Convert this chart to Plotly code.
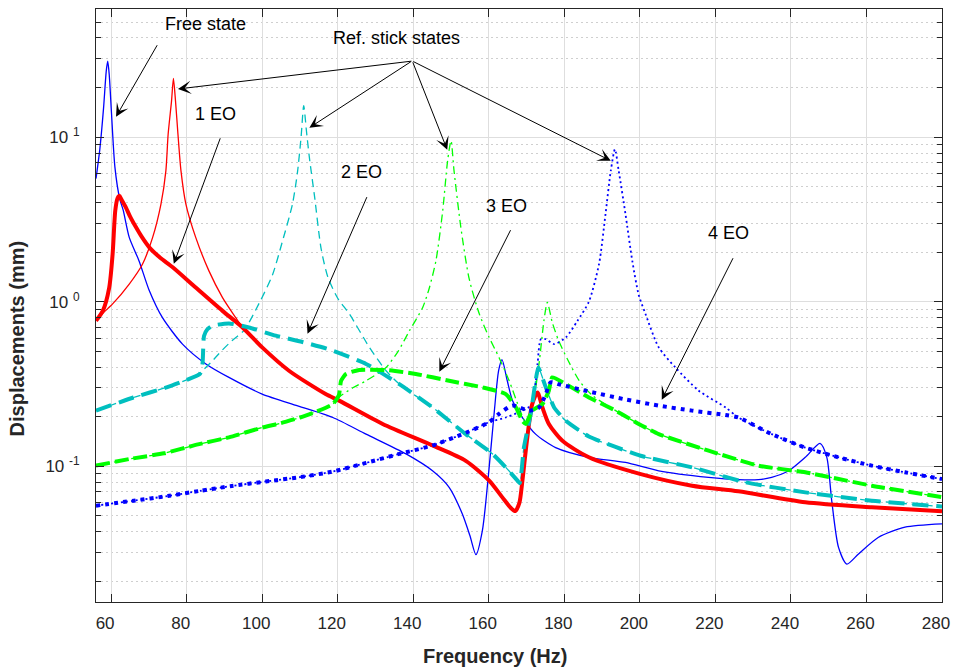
import math
import plotly.graph_objects as go

# ---------------- data ----------------
free_f = [56, 57, 58, 58.7, 59.1, 59.5, 60.1, 61.0, 62.3, 63.2, 64.8, 67.4, 70.1, 73.6, 78.9, 85.1, 91.2, 100,
          109.4, 118.7, 127.5, 138.1, 145.1, 149.5, 153, 155, 156.6, 158.3, 160.1, 161.4, 162.6, 163.5, 164.9,
          166.3, 168.9, 172.4, 177.7, 186.5, 196.2, 205, 218.2, 226.1, 231.4, 234.9, 239.4, 243.8, 247.7,
          249.5, 250.8, 252.6, 254.8, 257.9, 263.1, 270.2, 280]
free_y = [5.6, 8.4, 15, 25, 28.9, 24, 14, 6.6, 4.2, 3.6, 2.46, 1.77, 1.17, 0.80, 0.553, 0.419, 0.347, 0.275,
          0.233, 0.198, 0.157, 0.119, 0.094, 0.0746, 0.0514, 0.038, 0.0291, 0.0407, 0.0986, 0.208, 0.381, 0.445,
          0.331, 0.25, 0.198, 0.157, 0.130, 0.1135, 0.1057, 0.094, 0.0857, 0.083, 0.083, 0.0857, 0.094, 0.1135,
          0.138, 0.1135, 0.0619, 0.0322, 0.0255, 0.0294, 0.037, 0.0427, 0.0447]

eo1_f = [56, 57.8, 59.5, 60.4, 61.1, 61.7, 62.2, 62.8, 63.9, 65, 66.6, 68, 70.1, 73, 76.3, 82.4, 89.5, 94.8, 100,
         107.1, 116.8, 120.5, 131.9, 145.1, 153.9, 160.1, 163.6, 165.8, 167, 168.1, 168.9, 170.2, 171.5, 172.9,
         174.2, 175.9, 179.5, 186.5, 200, 213.8, 226.1, 243.8, 261.4, 280]
eo1_y = [0.766, 0.88, 1.22, 1.95, 3.57, 4.25, 4.40, 4.15, 3.74, 3.3, 2.83, 2.5, 2.14, 1.85, 1.62, 1.22, 0.88, 0.698,
         0.528, 0.381, 0.275, 0.25, 0.181, 0.134, 0.108, 0.0819, 0.0648, 0.056, 0.0535, 0.06, 0.0819, 0.15, 0.239,
         0.281, 0.228, 0.181, 0.143, 0.1135, 0.09, 0.0763, 0.0705, 0.0605, 0.0564, 0.0533]

st1_f = [56, 58, 60.4, 64.8, 68.3, 71, 73.2, 74.5, 75.1, 76, 76.5, 77.05, 77.7, 78.5, 79.8, 82.4, 85.9, 89.5, 93,
         94.8, 100, 107.1, 116.8, 120.5, 131.9, 145.1, 153.9, 160.1, 163.6, 165.8, 167, 168.1, 168.9, 170.2,
         171.5, 172.9, 174.2, 175.9, 179.5, 186.5, 200, 213.8, 226.1, 243.8, 261.4, 280]
st1_y = [0.77, 0.86, 0.97, 1.28, 1.69, 2.46, 3.92, 6.24, 10.4, 16.6, 22.7, 16.6, 10.4, 6.24, 3.92, 2.46, 1.54, 1.06,
         0.80, 0.698, 0.528, 0.381, 0.275, 0.25, 0.181, 0.134, 0.108, 0.0819, 0.0648, 0.056, 0.0535, 0.06, 0.0819,
         0.15, 0.239, 0.281, 0.228, 0.181, 0.143, 0.1135, 0.09, 0.0763, 0.0705, 0.0605, 0.0564, 0.0533]

eo2_f = [56, 65.9, 74.7, 80, 83.5, 84.2, 84.6, 85.5, 86.8, 91.2, 96.5, 103.6, 110.2, 117.5, 127.5, 136.3, 145.1,
         153.9, 161, 164.5, 167.6, 168.2, 169.3, 171.1, 172.4, 173.1, 175.1, 177.3, 180.4, 186.5, 200.2, 213.8,
         228, 243.8, 261.4, 280]
eo2_y = [0.218, 0.262, 0.302, 0.335, 0.364, 0.42, 0.62, 0.68, 0.715, 0.738, 0.698, 0.622, 0.573, 0.515, 0.419,
         0.316, 0.228, 0.157, 0.119, 0.0986, 0.0819, 0.079, 0.13, 0.208, 0.331, 0.399, 0.302, 0.228, 0.189, 0.152,
         0.116, 0.0986, 0.08, 0.0695, 0.0619, 0.057]

st2_f = [56, 65.9, 74.7, 80, 83.5, 86.5, 89.5, 92, 95.2, 99.2, 102.7, 105.3, 108, 109.3, 110.3, 111, 111.7, 112.5,
         113.9, 115.6, 117.4, 120, 123.1, 128.4, 132.8, 136.3, 145.1, 153.9, 161, 164.5, 167.6, 168.2, 169.3,
         171.1, 172.4, 173.1, 175.1, 177.3, 180.4, 186.5, 200.2, 213.8, 228, 243.8, 261.4, 280]
st2_y = [0.218, 0.262, 0.302, 0.335, 0.37, 0.43, 0.51, 0.58, 0.67, 0.98, 1.45, 2.3, 3.9, 6.0, 10, 15.5, 11, 7.5,
         4.3, 2.1, 1.41, 1.05, 0.842, 0.528, 0.381, 0.316, 0.228, 0.157, 0.119, 0.0986, 0.0819, 0.079, 0.13, 0.208,
         0.331, 0.399, 0.302, 0.228, 0.189, 0.152, 0.116, 0.0986, 0.08, 0.0695, 0.0619, 0.057]

eo3_f = [56, 65, 74, 83, 91.2, 100, 105, 110, 115, 118.7, 120.3, 120.9, 122.2, 125.7, 132.8, 140.7, 149.5, 158.3,
         164.5, 167.2, 168.9, 169.8, 171.5, 174.2, 175.9, 176.8, 180.4, 186.5, 193.6, 199.7, 205, 218.2, 231.4,
         243.8, 261.4, 280]
eo3_y = [0.101, 0.111, 0.12, 0.136, 0.15, 0.172, 0.183, 0.198, 0.218, 0.239, 0.27, 0.331, 0.364, 0.385, 0.385,
         0.364, 0.331, 0.302, 0.275, 0.228, 0.189, 0.181, 0.218, 0.239, 0.288, 0.347, 0.316, 0.262, 0.218, 0.181,
         0.157, 0.1245, 0.101, 0.092, 0.0763, 0.065]

st3_f = [56, 65, 74, 83, 91.2, 100, 105, 110, 115, 118.7, 120.5, 124, 127.5, 132.8, 136, 139, 142.5, 144.2, 146,
         147.8, 149.1, 150, 150.8, 152.6, 154.8, 157.5, 160.1, 162.7, 165.4, 168, 169.8, 171.5, 173.3, 174.6,
         175.5, 176.8, 178.5, 181, 184, 187.4, 193.6, 199.7, 205, 218.2, 231.4, 243.8, 261.4, 280]
st3_y = [0.101, 0.111, 0.12, 0.136, 0.15, 0.172, 0.183, 0.198, 0.218, 0.239, 0.265, 0.3, 0.331, 0.399, 0.5, 0.667,
         0.923, 1.2, 1.77, 3.57, 7.19, 9.5, 6.24, 2.83, 1.38, 0.842, 0.607, 0.459, 0.331, 0.228, 0.185, 0.228, 0.419,
         0.767, 0.99, 0.75, 0.58, 0.44, 0.33, 0.27, 0.218, 0.181, 0.157, 0.1245, 0.101, 0.092, 0.0763, 0.065]

eo4_f = [56, 66, 75, 83.5, 92, 101, 110, 118.7, 127.5, 136.3, 145.1, 153.9, 160, 162.7, 166.3, 170.7, 173.3,
         175.1, 176.4, 178.6, 186.5, 196.2, 205, 213.8, 222.7, 226.1, 234.9, 243.8, 252.6, 261.4, 270.2, 280]
eo4_y = [0.0577, 0.0619, 0.066, 0.071, 0.076, 0.081, 0.086, 0.093, 0.105, 0.119, 0.134, 0.16, 0.185, 0.208,
         0.234, 0.218, 0.228, 0.275, 0.324, 0.315, 0.285, 0.255, 0.234, 0.218, 0.205, 0.198, 0.157, 0.130, 0.1135,
         0.101, 0.092, 0.0837]

st4_f = [56, 66, 75, 83.5, 92, 101, 110, 118.7, 127.5, 136.3, 145.1, 153.9, 160, 164.5, 169.8, 171.5, 172.9,
         173.8, 175.1, 177.3, 180.4, 183.5, 186.5, 189.2, 190.9, 192.3, 193.4, 194.4, 196.2, 198, 199.7, 201.5,
         205, 209.4, 215.6, 222.7, 226.1, 234.9, 243.8, 252.6, 261.4, 270.2, 280]
st4_y = [0.0577, 0.0619, 0.066, 0.071, 0.076, 0.081, 0.086, 0.093, 0.105, 0.119, 0.134, 0.16, 0.185, 0.198,
         0.223, 0.239, 0.419, 0.593, 0.593, 0.553, 0.607, 0.767, 1.0, 1.7, 3.4, 6.24, 8.43, 6.24, 3.40, 1.77, 1.1,
         0.842, 0.528, 0.399, 0.288, 0.228, 0.198, 0.157, 0.130, 0.1135, 0.101, 0.092, 0.0837]

x_ticks = [60, 80, 100, 120, 140, 160, 180, 200, 220, 240, 260, 280]
y_ticks = [0.1, 1, 10]
y_ticktext = ["10 <sup>-1</sup>", "10 <sup>0</sup>", "10 <sup>1</sup>"]
y_minor = [m * 10 ** e for e in (-2, -1, 0, 1) for m in range(2, 10) if 0.015 < m * 10 ** e < 60]

labels = ["Free state", "Ref. stick states", "1 EO", "2 EO", "3 EO", "4 EO"]
label_x = [85.1, 135.5, 87.7, 126.3, 164.6, 223.5]
label_y = [48.8, 40.1, 13.8, 6.15, 3.83, 2.62]

arrow_x = [61.3, 77.7, 112.5, 149.0, 192.3, 76.6, 112.0, 146.9, 205.8]
arrow_y = [13.3, 19.6, 11.4, 8.37, 7.18, 1.70, 0.64, 0.376, 0.254]
arrow_ax = [42, 235, 103, -35, -199, 47, 60, 72, 72]
arrow_ay = [-73, -28, -67, -89, -100, -127, -138, -143, -143]

# ---------------- figure ----------------
BLUE, RED, CYAN, GREEN = "#0000FF", "#FF0000", "#00BFBF", "#00FF00"
FONT = "Liberation Sans, Arial, Helvetica, sans-serif"

fig = go.Figure()

def add(x, y, color, width, dash, smooth=0.7):
    fig.add_trace(go.Scatter(x=x, y=y, mode="lines",
                             line=dict(color=color, width=width, dash=dash, shape="spline", smoothing=smooth),
                             showlegend=False, hoverinfo="skip"))

add(free_f, free_y, BLUE, 1.3, "solid")
add(st1_f, st1_y, RED, 1.3, "solid")
add(st2_f, st2_y, CYAN, 1.3, "8px,5px")
add(st3_f, st3_y, GREEN, 1.3, "8px,4px,2px,4px")
add(st4_f, st4_y, BLUE, 1.8, "2px,3px")
add(eo1_f, eo1_y, RED, 4, "solid")
add(eo2_f, eo2_y, CYAN, 4, "16px,8px", 0.5)
add(eo3_f, eo3_y, GREEN, 4, "14px,5px", 0.5)
add(eo4_f, eo4_y, BLUE, 4, "4px,5px")

annotations = []
for t, x, y in zip(labels, label_x, label_y):
    annotations.append(dict(x=x, y=math.log10(y), xref="x", yref="y", text=t, showarrow=False,
                            font=dict(family=FONT, size=18, color="#000000"),
                            xanchor="center", yanchor="middle"))
for x, y, ax, ay in zip(arrow_x, arrow_y, arrow_ax, arrow_ay):
    annotations.append(dict(x=x, y=math.log10(y), xref="x", yref="y", text="", showarrow=True,
                            ax=ax, ay=ay, arrowhead=3, arrowsize=2.2, arrowwidth=1,
                            arrowcolor="#000000", standoff=0))
annotations.append(dict(x=0.4716, y=-0.091, xref="paper", yref="paper", text="<b>Frequency (Hz)</b>",
                        showarrow=False, font=dict(family=FONT, size=20, color="#262626"),
                        xanchor="center", yanchor="middle"))
annotations.append(dict(x=-0.093, y=0.445, xref="paper", yref="paper", text="<b>Displacements (mm)</b>",
                        showarrow=False, textangle=-90, font=dict(family=FONT, size=20, color="#262626"),
                        xanchor="center", yanchor="middle"))

fig.update_layout(
    width=954, height=670,
    margin=dict(l=96, r=12, t=9, b=68, autoexpand=False),
    paper_bgcolor="white", plot_bgcolor="white",
    font=dict(family=FONT, size=17, color="#262626"),
    annotations=annotations,
    showlegend=False,
)
fig.update_xaxes(
    range=[56, 280], tickvals=x_ticks, ticks="inside", ticklen=8, tickcolor="#262626",
    showline=True, linecolor="#262626", linewidth=1, mirror="ticks",
    showgrid=True, gridcolor="#DEDEDE", gridwidth=1, zeroline=False,
    ticklabelstandoff=6, ticklabelshift=-6, ticklabeloverflow="allow", automargin=False,
)
fig.update_yaxes(
    type="log", range=[math.log10(0.015), math.log10(60)],
    tickvals=y_ticks, ticktext=y_ticktext, ticks="inside", ticklen=8, tickcolor="#262626",
    showline=True, linecolor="#262626", linewidth=1, mirror="ticks",
    showgrid=True, gridcolor="#DEDEDE", gridwidth=1, zeroline=False,
    ticklabelstandoff=12, automargin=False,
    minor=dict(tickvals=y_minor, ticks="inside", ticklen=5, tickcolor="#262626",
               showgrid=True, gridcolor="#CFCFCF", griddash="2px,3px", gridwidth=1),
)

fig.write_html("out.html")
